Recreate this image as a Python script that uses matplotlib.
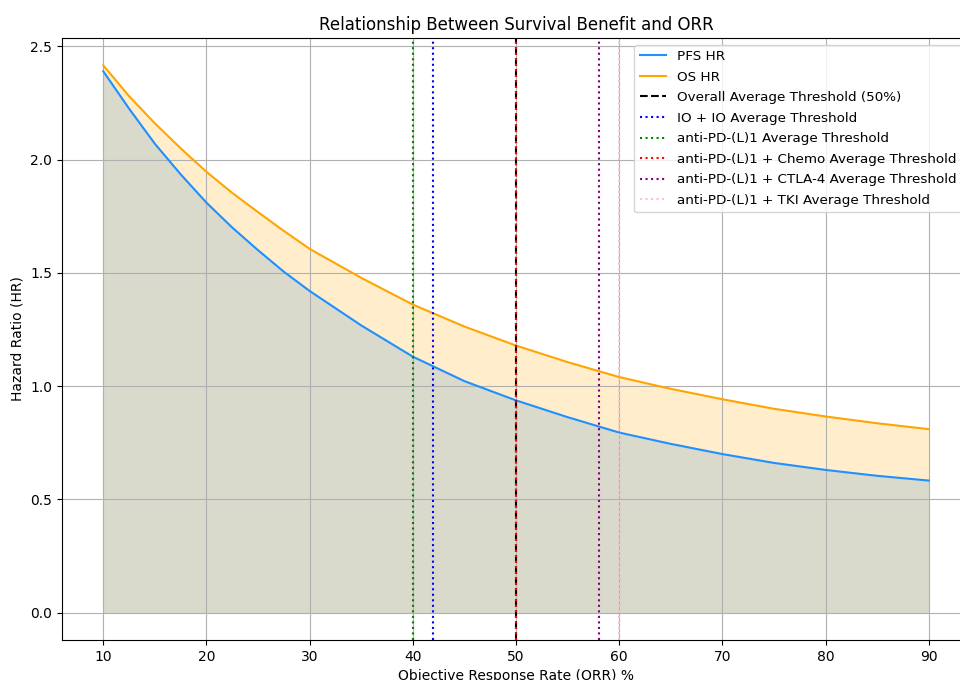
import matplotlib
matplotlib.use("Agg")
import matplotlib.pyplot as plt

orr = [10, 12.5, 15, 17.5, 20, 22.5, 25, 27.5, 30, 35, 40, 45, 50, 55, 60, 65, 70, 75, 80, 85, 90]
pfs_hr = [2.39, 2.225, 2.07, 1.935, 1.81, 1.70, 1.60, 1.505, 1.42, 1.268, 1.13, 1.022, 0.937, 0.863, 0.795, 0.745, 0.700, 0.661, 0.630, 0.604, 0.583]
os_hr = [2.416, 2.28, 2.16, 2.05, 1.946, 1.853, 1.768, 1.685, 1.606, 1.478, 1.360, 1.263, 1.179, 1.106, 1.040, 0.988, 0.942, 0.900, 0.866, 0.836, 0.810]

overall_threshold = 50
thresholds = [
    ("IO + IO Average Threshold", 42, "blue"),
    ("anti-PD-(L)1 Average Threshold", 40, "green"),
    ("anti-PD-(L)1 + Chemo Average Threshold", 50, "red"),
    ("anti-PD-(L)1 + CTLA-4 Average Threshold", 58, "purple"),
    ("anti-PD-(L)1 + TKI Average Threshold", 60, "pink"),
]

fig = plt.figure(figsize=(9.6, 6.8), dpi=100)
ax = fig.add_axes([62/960, 40/680, 908/960, 602/680])

ax.fill_between(orr, pfs_hr, os_hr, color="orange", alpha=0.2, linewidth=0)
ax.fill_between(orr, 0, pfs_hr, color=(65/255, 65/255, 0), alpha=0.2, linewidth=0)
ax.plot(orr, pfs_hr, color="dodgerblue", linewidth=1.5, label="PFS HR")
ax.plot(orr, os_hr, color="orange", linewidth=1.5, label="OS HR")
ax.axvline(overall_threshold, color="black", linestyle="--", linewidth=1.5,
           label="Overall Average Threshold (50%)")
for name, xv, col in thresholds:
    ax.axvline(xv, color=col, linestyle=":", linewidth=1.5, label=name)

ax.set_title("Relationship Between Survival Benefit and ORR", fontsize=12)
ax.set_xlabel("Objective Response Rate (ORR) %", fontsize=10)
ax.set_ylabel("Hazard Ratio (HR)", fontsize=10)
ax.grid(True)
ax.spines["right"].set_visible(False)
ax.legend(loc="upper right", fontsize=9.7, bbox_to_anchor=(1 - 1/908, 1.0),
          labelspacing=0.56)

fig.savefig("out.png", dpi=100)
